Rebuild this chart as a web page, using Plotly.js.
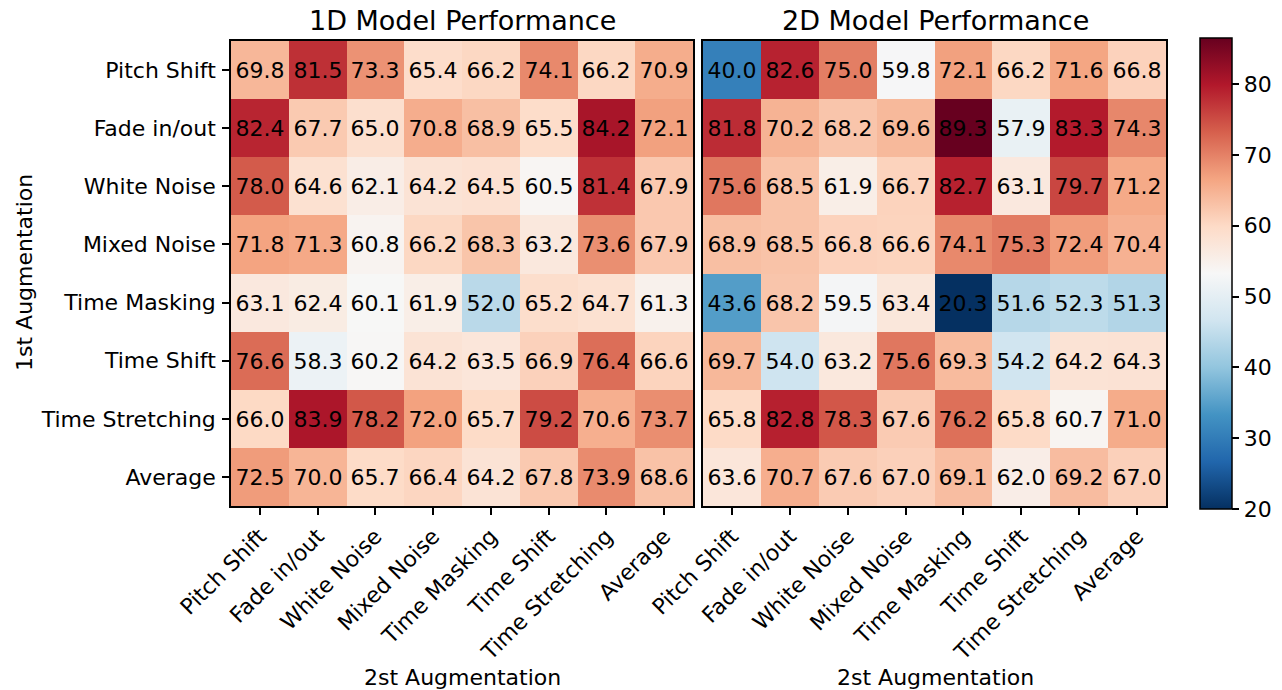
<!DOCTYPE html>
<html>
<head>
<meta charset="utf-8">
<script src="https://cdn.plot.ly/plotly-3.0.1.min.js"></script>
<style>html,body{margin:0;padding:0;background:#fff;}#chart{width:1282px;height:690px;}</style>
</head>
<body>
<div id="chart"></div>
<script>
// ---- data ----
const augmentations1st = ["Pitch Shift","Fade in/out","White Noise","Mixed Noise","Time Masking","Time Shift","Time Stretching","Average"];
const augmentations2nd = ["Pitch Shift","Fade in/out","White Noise","Mixed Noise","Time Masking","Time Shift","Time Stretching","Average"];

const model1D = [
  [69.8, 81.5, 73.3, 65.4, 66.2, 74.1, 66.2, 70.9],
  [82.4, 67.7, 65.0, 70.8, 68.9, 65.5, 84.2, 72.1],
  [78.0, 64.6, 62.1, 64.2, 64.5, 60.5, 81.4, 67.9],
  [71.8, 71.3, 60.8, 66.2, 68.3, 63.2, 73.6, 67.9],
  [63.1, 62.4, 60.1, 61.9, 52.0, 65.2, 64.7, 61.3],
  [76.6, 58.3, 60.2, 64.2, 63.5, 66.9, 76.4, 66.6],
  [66.0, 83.9, 78.2, 72.0, 65.7, 79.2, 70.6, 73.7],
  [72.5, 70.0, 65.7, 66.4, 64.2, 67.8, 73.9, 68.6]
];
const model2D = [
  [40.0, 82.6, 75.0, 59.8, 72.1, 66.2, 71.6, 66.8],
  [81.8, 70.2, 68.2, 69.6, 89.3, 57.9, 83.3, 74.3],
  [75.6, 68.5, 61.9, 66.7, 82.7, 63.1, 79.7, 71.2],
  [68.9, 68.5, 66.8, 66.6, 74.1, 75.3, 72.4, 70.4],
  [43.6, 68.2, 59.5, 63.4, 20.3, 51.6, 52.3, 51.3],
  [69.7, 54.0, 63.2, 75.6, 69.3, 54.2, 64.2, 64.3],
  [65.8, 82.8, 78.3, 67.6, 76.2, 65.8, 60.7, 71.0],
  [63.6, 70.7, 67.6, 67.0, 69.1, 62.0, 69.2, 67.0]
];
const colorbarTicks = [20, 30, 40, 50, 60, 70, 80];
const colorbarRange = [20, 86.5];
const cellColorRange = [30.7, 89.3];

// ---- styling ----
const RdBu_r = [
  [0.0,'#053061'],[0.1,'#2166ac'],[0.2,'#4393c3'],[0.3,'#92c5de'],[0.4,'#d1e5f0'],
  [0.5,'#f7f7f7'],[0.6,'#fddbc7'],[0.7,'#f4a582'],[0.8,'#d6604d'],[0.9,'#b2182b'],[1.0,'#67001f']
];
const FONT = 'DejaVu Sans, Verdana, sans-serif';
const W = 1282, H = 690;
const px = v => v / W, py = v => 1 - v / H;

function heat(z, xa, ya) {
  return {
    type: 'heatmap', z: z, x: augmentations2nd, y: augmentations1st,
    xaxis: xa, yaxis: ya,
    colorscale: RdBu_r, zmin: cellColorRange[0], zmax: cellColorRange[1],
    showscale: false, xgap: 0, ygap: 0,
    texttemplate: '%{z:.1f}',
    textfont: {family: FONT, size: 22, color: '#000'},
    hovertemplate: '%{y} → %{x}: %{z:.1f}<extra></extra>'
  };
}

const colorbarTrace = {
  type: 'scatter', mode: 'markers', x: [null], y: [null], xaxis: 'x', yaxis: 'y',
  hoverinfo: 'skip', showlegend: false,
  marker: {
    color: [colorbarRange[0]], cmin: colorbarRange[0], cmax: colorbarRange[1],
    colorscale: RdBu_r, showscale: true,
    colorbar: {
      x: px(1200), xanchor: 'left', xpad: 0,
      y: py(509), yanchor: 'bottom', ypad: 0,
      thickness: 32, thicknessmode: 'pixels',
      len: 471, lenmode: 'pixels',
      outlinewidth: 1.5, outlinecolor: '#000',
      ticks: 'outside', ticklen: 7, tickwidth: 1.5, tickcolor: '#000',
      tickvals: colorbarTicks,
      tickfont: {family: FONT, size: 22, color: '#000'}
    }
  }
};

const axisCommon = {
  type: 'category', showline: true, mirror: true, linecolor: '#000', linewidth: 1.5,
  ticks: 'outside', ticklen: 7, tickwidth: 1.5, tickcolor: '#000',
  showgrid: false, zeroline: false, fixedrange: true,
  tickfont: {family: FONT, size: 22, color: '#000'}
};

const yDomain = [py(506), py(41)];
const layout = {
  width: W, height: H,
  margin: {l: 0, r: 0, t: 0, b: 0},
  paper_bgcolor: '#fff', plot_bgcolor: '#fff',
  showlegend: false,
  font: {family: FONT, color: '#000'},
  xaxis: Object.assign({}, axisCommon, {domain: [px(231), px(693)], anchor: 'y', tickangle: -45}),
  yaxis: Object.assign({}, axisCommon, {domain: yDomain, anchor: 'x', autorange: 'reversed', ticklabelstandoff: 2}),
  xaxis2: Object.assign({}, axisCommon, {domain: [px(703), px(1166)], anchor: 'y2', tickangle: -45}),
  yaxis2: Object.assign({}, axisCommon, {domain: yDomain, anchor: 'x2', autorange: 'reversed', showticklabels: false, ticks: ''}),
  annotations: [
    {text: '1D Model Performance', x: px(462), y: py(20), xref: 'paper', yref: 'paper', showarrow: false, xanchor: 'center', yanchor: 'middle', font: {family: FONT, size: 27, color: '#000'}},
    {text: '2D Model Performance', x: px(935), y: py(20), xref: 'paper', yref: 'paper', showarrow: false, xanchor: 'center', yanchor: 'middle', font: {family: FONT, size: 27, color: '#000'}},
    {text: '2st Augmentation', x: px(462), y: py(677), xref: 'paper', yref: 'paper', showarrow: false, xanchor: 'center', yanchor: 'middle', font: {family: FONT, size: 22, color: '#000'}},
    {text: '2st Augmentation', x: px(935), y: py(677), xref: 'paper', yref: 'paper', showarrow: false, xanchor: 'center', yanchor: 'middle', font: {family: FONT, size: 22, color: '#000'}},
    {text: '1st Augmentation', x: px(25), y: py(273), xref: 'paper', yref: 'paper', showarrow: false, xanchor: 'center', yanchor: 'middle', textangle: -90, font: {family: FONT, size: 22, color: '#000'}}
  ]
};

Plotly.newPlot('chart', [heat(model1D, 'x', 'y'), heat(model2D, 'x2', 'y2'), colorbarTrace], layout, {displayModeBar: false});
</script>
</body>
</html>
